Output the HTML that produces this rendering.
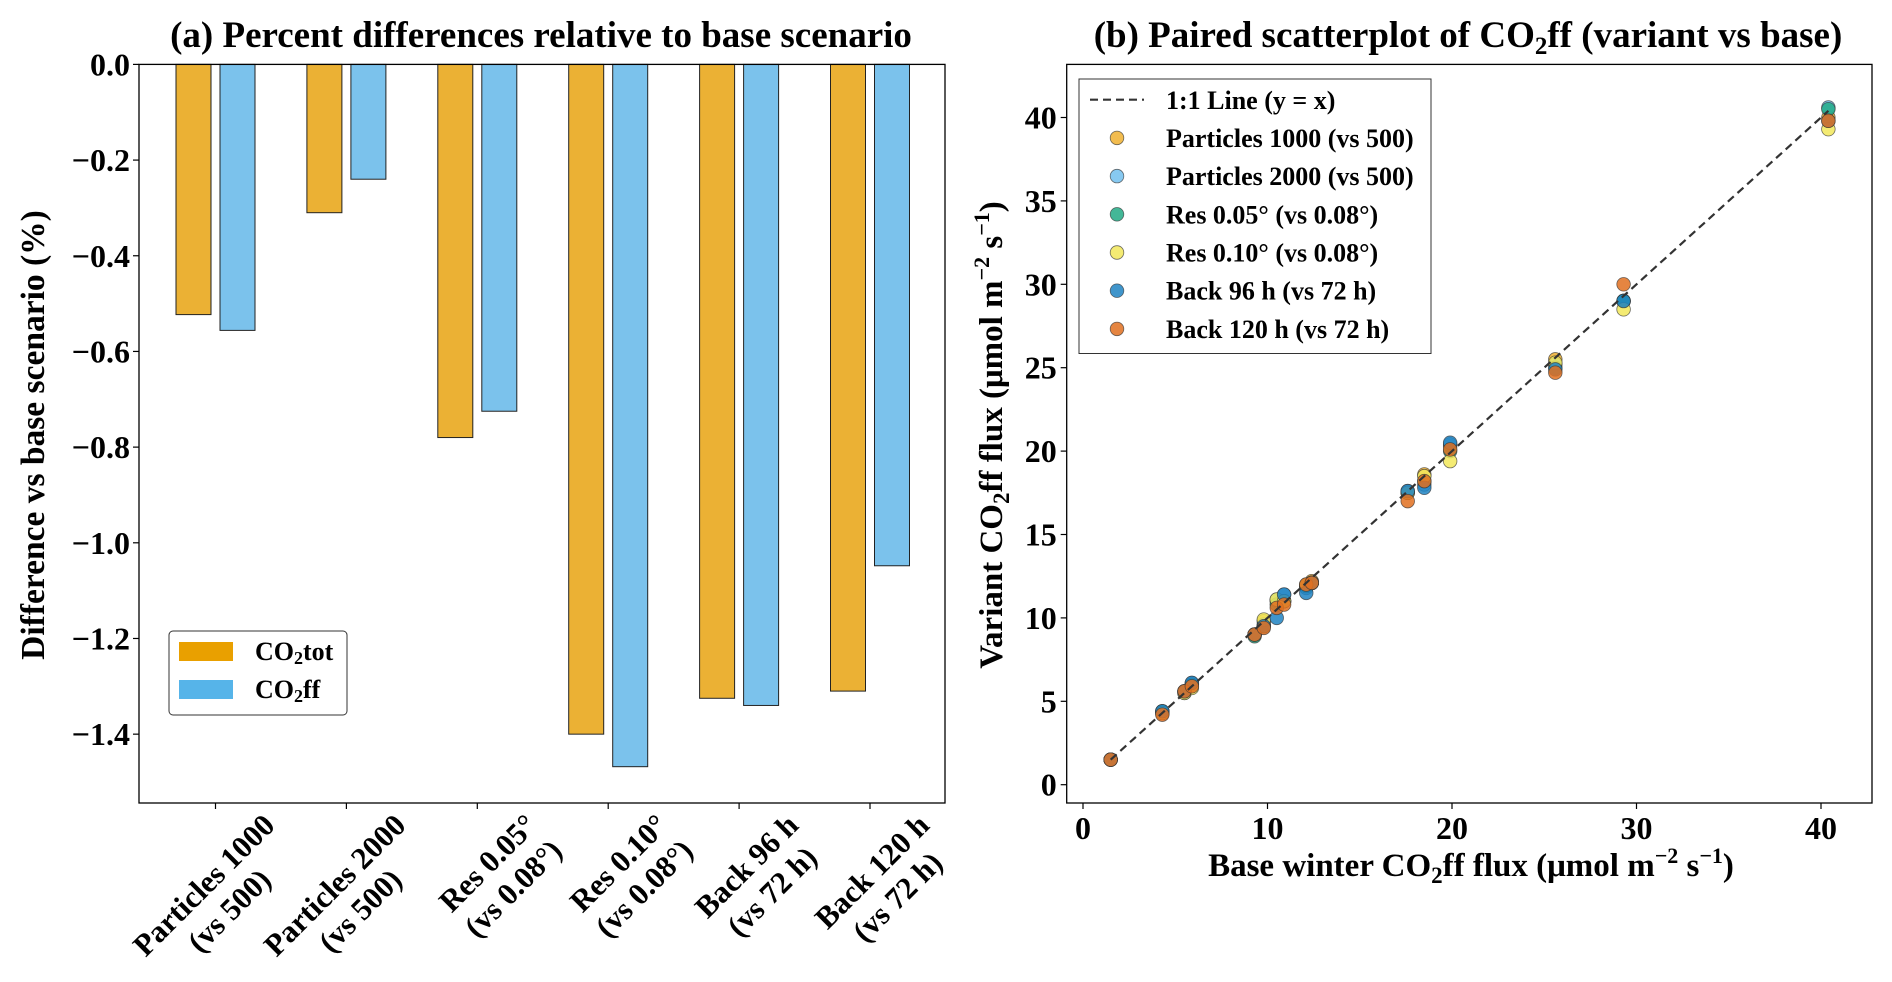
<!DOCTYPE html>
<html><head><meta charset="utf-8">
<style>
html,body{margin:0;padding:0;background:#fff;}
svg{display:block;font-family:"Liberation Serif",serif;font-weight:bold;}
</style></head>
<body>
<svg id="fig" width="1892" height="982" viewBox="0 0 1892 982" xmlns="http://www.w3.org/2000/svg">
<g id="pa"></g>
<g id="pb"></g>
</svg>
<script>
// Panel (a) data
const categories = ["Particles 1000|(vs 500)","Particles 2000|(vs 500)","Res 0.05°|(vs 0.08°)","Res 0.10°|(vs 0.08°)","Back 96 h|(vs 72 h)","Back 120 h|(vs 72 h)"];
const co2tot = [-0.523,-0.31,-0.78,-1.40,-1.325,-1.31];
const co2ff = [-0.556,-0.24,-0.725,-1.468,-1.34,-1.048];
const yTicksA = [0.0,-0.2,-0.4,-0.6,-0.8,-1.0,-1.2,-1.4];

// Panel (b) data
const baseFlux = [1.5,4.3,5.5,5.9,9.3,9.8,10.5,10.9,12.1,12.4,17.6,18.5,19.9,25.6,29.3,40.4];
const seriesNames = ["Particles 1000 (vs 500)","Particles 2000 (vs 500)","Res 0.05° (vs 0.08°)","Res 0.10° (vs 0.08°)","Back 96 h (vs 72 h)","Back 120 h (vs 72 h)"];
const p1000 = [1.5,4.3,5.6,6.0,9.0,9.8,11.0,11.0,11.9,12.2,17.5,18.6,20.3,25.5,29.0,40.0];
const p2000 = [1.5,4.4,5.5,6.1,9.0,9.6,11.1,11.4,11.8,12.1,17.6,18.0,20.4,25.2,29.0,40.6];
const res005 = [1.5,4.4,5.6,6.0,8.9,9.5,10.8,11.0,11.9,12.1,17.5,18.2,20.0,25.0,29.0,40.5];
const res010 = [1.5,4.3,5.5,5.8,9.0,9.9,11.1,11.0,12.0,12.1,17.5,18.5,19.4,25.3,28.5,39.3];
const back96 = [1.5,4.4,5.6,6.1,9.0,9.5,10.0,11.4,11.5,12.1,17.6,17.8,20.5,24.9,29.0,39.8];
const back120 = [1.5,4.2,5.6,5.9,9.0,9.4,10.6,10.8,12.0,12.1,17.0,18.2,20.1,24.7,30.0,39.8];
const xTicksB = [0,10,20,30,40];
const yTicksB = [0,5,10,15,20,25,30,35,40];

const NS="http://www.w3.org/2000/svg";
function mk(parent,tag,attrs,text){const e=document.createElementNS(NS,tag);for(const k in attrs)e.setAttribute(k,attrs[k]);if(text!==undefined)e.textContent=text;parent.appendChild(e);return e;}

// ---------- Panel A ----------
const pa=document.getElementById('pa');
const A={l:139,r:945,t:64.4,b:803};
const yA=v=>A.t+(0-v)*478.4;
const xA=i=>215.5+i*130.9;
let e;
e=mk(pa,'text',{x:541,y:47,'text-anchor':'middle','font-size':37},'(a) Percent differences relative to base scenario');

categories.forEach((c,i)=>{
  const x=xA(i);
  let b=mk(pa,'rect',{x:x-39.5,y:yA(0),width:35,height:yA(co2tot[i])-yA(0),fill:'#ebb134',stroke:'#222','stroke-width':1});
  
  b=mk(pa,'rect',{x:x+4.5,y:yA(0),width:35,height:yA(co2ff[i])-yA(0),fill:'#7bc2ec',stroke:'#222','stroke-width':1});
  
  mk(pa,'line',{x1:x,x2:x,y1:A.b,y2:A.b+6,stroke:'#000','stroke-width':1.2});
  const parts=c.split('|');
  const g=mk(pa,'g',{transform:`translate(${x+61},${A.b+24}) rotate(-45)`});
  
  const t1=mk(g,'text',{x:0,y:0,'text-anchor':'end','font-size':31},parts[0]);
  const t2=mk(g,'text',{x:0,y:36,'text-anchor':'middle','font-size':31},parts[1]);
  const w1=t1.getComputedTextLength();
  t2.setAttribute('x',-w1/2);
});
yTicksA.forEach(v=>{
  const y=yA(v);
  mk(pa,'line',{x1:A.l-6,x2:A.l,y1:y,y2:y,stroke:'#000','stroke-width':1.2});
  const t=mk(pa,'text',{x:A.l-9,y:y+11,'text-anchor':'end','font-size':32},v===0?'0.0':'\u2212'+Math.abs(v).toFixed(1));
  
});
mk(pa,'rect',{x:A.l,y:A.t,width:A.r-A.l,height:A.b-A.t,fill:'none',stroke:'#000','stroke-width':1.3});
e=mk(pa,'text',{transform:'translate(44,435) rotate(-90)','text-anchor':'middle','font-size':33.5},'Difference vs base scenario (%)');

const lg=mk(pa,'g',{});

mk(lg,'rect',{x:169,y:631,width:178,height:84,rx:4,fill:'#fff',stroke:'#333','stroke-width':1});
mk(lg,'rect',{x:179,y:642,width:54,height:19,fill:'#e9a000'});
mk(lg,'rect',{x:179,y:680,width:54,height:19,fill:'#56b4e9'});
e=mk(lg,'text',{x:255,y:660,'font-size':26});e.innerHTML='CO<tspan font-size="18" dy="4">2</tspan><tspan dy="-4">tot</tspan>';
e=mk(lg,'text',{x:255,y:698,'font-size':26});e.innerHTML='CO<tspan font-size="18" dy="4">2</tspan><tspan dy="-4">ff</tspan>';

// ---------- Panel B ----------
const pb=document.getElementById('pb');
const B={l:1066.7,r:1872,t:64.4,b:803};
const xB=v=>1083+v*18.45;
const yB=v=>784.7-v*16.68;
e=mk(pb,'text',{x:1468,y:47,'text-anchor':'middle','font-size':37});
e.innerHTML='(b) Paired scatterplot of CO<tspan font-size="25" dy="7">2</tspan><tspan dy="-7">ff (variant vs base)</tspan>';

const colors=['#f0b030','#72c0ee','#22aa85','#f2e85a','#1f83c2','#e07020'];
const allSeries=[p1000,p2000,res005,res010,back96,back120];
allSeries.forEach((s,si)=>{
  s.forEach((v,i)=>{
    const c=mk(pb,'circle',{cx:xB(baseFlux[i]),cy:yB(v),r:6.8,fill:colors[si],'fill-opacity':0.85,stroke:'#333','stroke-width':0.8,'stroke-opacity':0.7});
    
    
  });
});
const mn=Math.min(...baseFlux),mx=Math.max(...baseFlux);
e=mk(pb,'line',{x1:xB(mn),y1:yB(mn),x2:xB(mx),y2:yB(mx),stroke:'#333','stroke-width':2.2,'stroke-dasharray':'8,5'});

xTicksB.forEach(v=>{
  const x=xB(v);
  mk(pb,'line',{x1:x,x2:x,y1:B.b,y2:B.b+6,stroke:'#000','stroke-width':1.2});
  const t=mk(pb,'text',{x:x,y:B.b+36,'text-anchor':'middle','font-size':32},String(v));
  
});
yTicksB.forEach(v=>{
  const y=yB(v);
  mk(pb,'line',{x1:B.l-6,x2:B.l,y1:y,y2:y,stroke:'#000','stroke-width':1.2});
  const t=mk(pb,'text',{x:B.l-10,y:y+11,'text-anchor':'end','font-size':32},String(v));
  
});
mk(pb,'rect',{x:B.l,y:B.t,width:B.r-B.l,height:B.b-B.t,fill:'none',stroke:'#000','stroke-width':1.3});
e=mk(pb,'text',{x:1471,y:876,'text-anchor':'middle','font-size':33});
e.innerHTML='Base winter CO<tspan font-size="23" dy="7">2</tspan><tspan dy="-7">ff flux (μmol m</tspan><tspan font-size="22" dy="-13">−2</tspan><tspan dy="13"> s</tspan><tspan font-size="22" dy="-13">−1</tspan><tspan dy="13">)</tspan>';

e=mk(pb,'text',{transform:'translate(1002,435) rotate(-90)','text-anchor':'middle','font-size':33});
e.innerHTML='Variant CO<tspan font-size="23" dy="7">2</tspan><tspan dy="-7">ff flux (μmol m</tspan><tspan font-size="22" dy="-13">−2</tspan><tspan dy="13"> s</tspan><tspan font-size="22" dy="-13">−1</tspan><tspan dy="13">)</tspan>';

const lb=mk(pb,'g',{});

mk(lb,'rect',{x:1079,y:79,width:352,height:274.5,fill:'#fff',stroke:'#333','stroke-width':1});
mk(lb,'line',{x1:1090,x2:1144,y1:99.7,y2:99.7,stroke:'#333','stroke-width':2.2,'stroke-dasharray':'8,5'});
mk(lb,'text',{x:1166,y:109,'font-size':26},'1:1 Line (y = x)');
seriesNames.forEach((n,i)=>{
  const y=99.7+(i+1)*38.2;
  mk(lb,'circle',{cx:1117,cy:y,r:6.8,fill:colors[i],'fill-opacity':0.85,stroke:'#333','stroke-width':0.8,'stroke-opacity':0.7});
  const t=mk(lb,'text',{x:1166,y:y+9,'font-size':26},n);
  
});
</script>
</body></html>
